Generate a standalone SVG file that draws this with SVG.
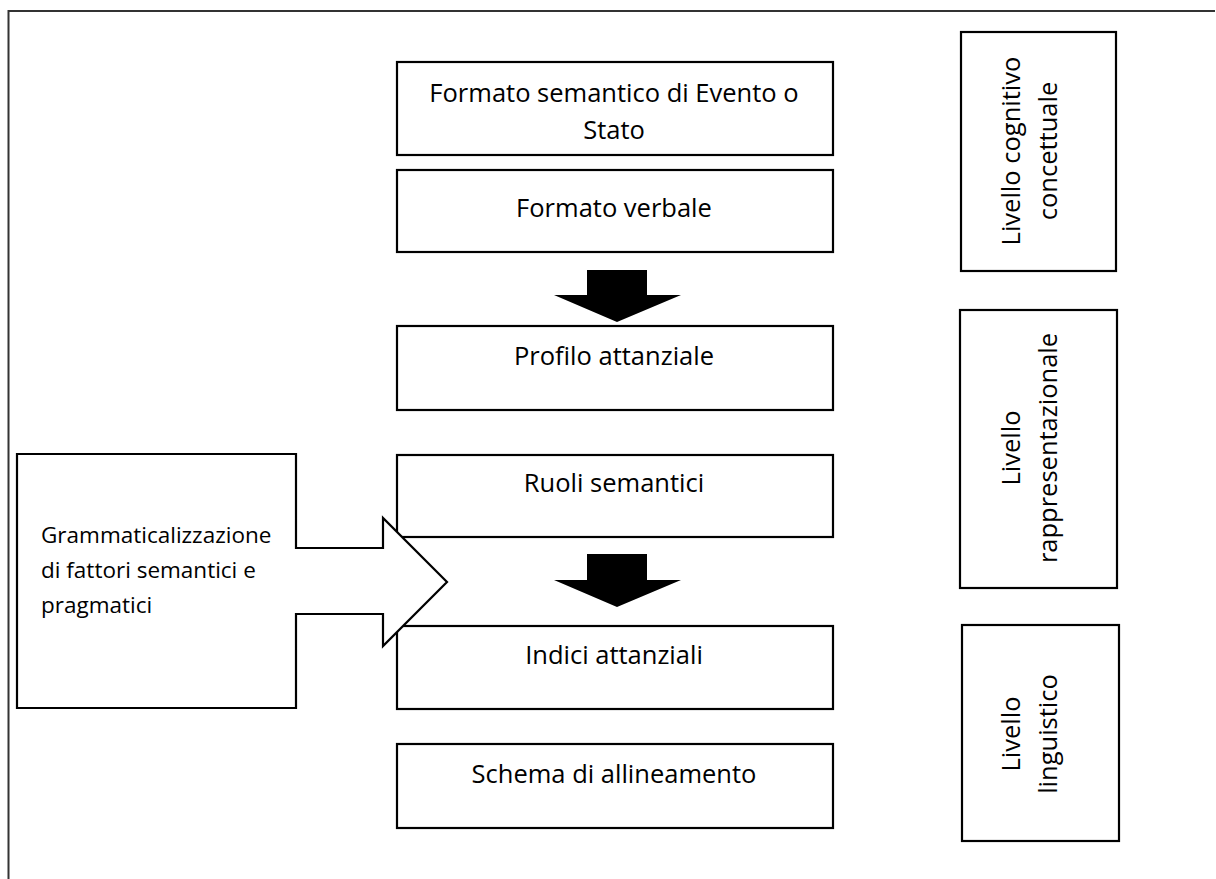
<svg xmlns="http://www.w3.org/2000/svg" width="1216" height="879" viewBox="0 0 1216 879">
<style>
.box{fill:#fff;stroke:#000;stroke-width:2.2}
.t{font-family:"Open Sans","Liberation Sans",sans-serif;font-size:25.5px;fill:#000}
.s{font-size:22.5px}
.c{text-anchor:middle}
.blk{fill:#000;stroke:none}
</style>
<rect width="1216" height="879" fill="#fff"/>
<g id="frame">
<path d="M8.5,879 L8.5,11 L1215,11" fill="none" stroke="#333" stroke-width="2"/>
</g>
<g id="n1"><rect class="box" x="397" y="62" width="436" height="93"/>
<text class="t c" x="614" y="102">Formato semantico di Evento o</text>
<text class="t c" x="614" y="139">Stato</text></g>
<g id="n2"><rect class="box" x="397" y="170" width="436" height="82"/>
<text class="t c" x="614" y="217">Formato verbale</text></g>
<g id="n3"><rect class="box" x="397" y="326" width="436" height="84"/>
<text class="t c" x="614" y="365">Profilo attanziale</text></g>
<g id="n4"><rect class="box" x="397" y="455" width="436" height="82"/>
<text class="t c" x="614" y="492">Ruoli semantici</text></g>
<g id="n5"><rect class="box" x="397" y="626" width="436" height="83"/>
<text class="t c" x="614" y="664">Indici attanziali</text></g>
<g id="n6"><rect class="box" x="397" y="744" width="436" height="84"/>
<text class="t c" x="614" y="783">Schema di allineamento</text></g>
<g id="n7">
<path class="box" d="M17,454 L296,454 L296,548 L383,548 L383,518 L447,582 L383,646 L383,614 L296,614 L296,708 L17,708 Z"/>
<text class="t s" x="41" y="543">Grammaticalizzazione</text>
<text class="t s" x="41" y="578">di fattori semantici e</text>
<text class="t s" x="41" y="613">pragmatici</text>
</g>
<g id="r1"><rect class="box" x="961" y="32" width="155" height="239"/>
<text class="t c" x="1020" y="151" transform="rotate(-90 1020 151)">Livello cognitivo</text>
<text class="t c" x="1057" y="151" transform="rotate(-90 1057 151)">concettuale</text></g>
<g id="r2"><rect class="box" x="960" y="310" width="157" height="278"/>
<text class="t c" x="1020" y="448" transform="rotate(-90 1020 448)">Livello</text>
<text class="t c" x="1057" y="448" transform="rotate(-90 1057 448)">rappresentazionale</text></g>
<g id="r3"><rect class="box" x="962" y="625" width="157" height="216"/>
<text class="t c" x="1020" y="734" transform="rotate(-90 1020 734)">Livello</text>
<text class="t c" x="1057" y="734" transform="rotate(-90 1057 734)">linguistico</text></g>
<g id="connectors">
<polygon class="blk" points="587,270 647,270 647,295 681,295 617,322 554,295 587,295"/>
<polygon class="blk" points="587,554 647,554 647,580 681,580 617,607 554,580 587,580"/>
</g>
</svg>
